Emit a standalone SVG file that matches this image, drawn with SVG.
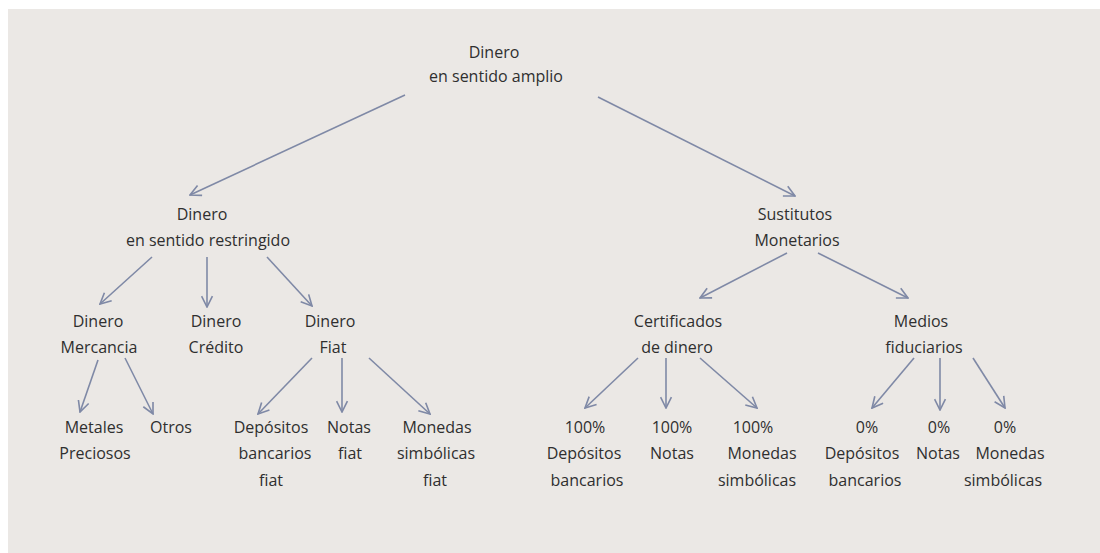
<svg xmlns="http://www.w3.org/2000/svg" width="1100" height="553" viewBox="0 0 1100 553">
<defs>
<style>
text{font-family:"Open Sans","Liberation Sans",sans-serif;font-size:16px;fill:#2f2f2f;text-anchor:middle}
.c line{stroke:#7f89a6;stroke-width:1.6;fill:none;marker-end:url(#ah)}
</style>
<marker id="ah" viewBox="0 0 12 12" refX="11" refY="6" markerWidth="13" markerHeight="13" markerUnits="userSpaceOnUse" orient="auto">
<path d="M1,1 L11,6 L1,11" fill="none" stroke="#7f89a6" stroke-width="1.5"/>
</marker>
</defs>
<rect x="0" y="0" width="1100" height="553" fill="#ffffff"/>
<rect x="8" y="9" width="1092" height="544" fill="#ebe8e5"/>
<g class="c" id="connectors">
<line x1="405" y1="95" x2="190" y2="195"/>
<line x1="598" y1="97" x2="795" y2="196"/>
<line x1="152" y1="257" x2="100" y2="304"/>
<line x1="207" y1="257" x2="207" y2="307"/>
<line x1="267" y1="257" x2="312" y2="306"/>
<line x1="98" y1="360" x2="80" y2="412"/>
<line x1="125" y1="358" x2="153" y2="414"/>
<line x1="312" y1="358" x2="258" y2="414"/>
<line x1="342" y1="358" x2="342" y2="412"/>
<line x1="369" y1="358" x2="430" y2="414"/>
<line x1="787" y1="253" x2="700" y2="298"/>
<line x1="818" y1="253" x2="908" y2="298"/>
<line x1="638" y1="358" x2="585" y2="408"/>
<line x1="666" y1="358" x2="666" y2="408"/>
<line x1="700" y1="358" x2="757" y2="408"/>
<line x1="914" y1="358" x2="872" y2="408"/>
<line x1="940" y1="358" x2="940" y2="410"/>
<line x1="973" y1="358" x2="1005" y2="408"/>
</g>
<g id="n-amplio"><text x="494" y="58">Dinero</text><text x="496" y="82">en sentido amplio</text></g>
<g id="n-restringido"><text x="202" y="220">Dinero</text><text x="208" y="246">en sentido restringido</text></g>
<g id="n-sustitutos"><text x="795" y="220">Sustitutos</text><text x="797" y="246">Monetarios</text></g>
<g id="n-mercancia"><text x="98" y="327">Dinero</text><text x="99" y="353">Mercancia</text></g>
<g id="n-credito"><text x="216" y="327">Dinero</text><text x="216" y="353">Crédito</text></g>
<g id="n-fiat"><text x="330" y="327">Dinero</text><text x="333" y="353">Fiat</text></g>
<g id="n-certificados"><text x="678" y="327">Certificados</text><text x="677" y="353">de dinero</text></g>
<g id="n-medios"><text x="921" y="327">Medios</text><text x="924" y="353">fiduciarios</text></g>
<g id="n-metales"><text x="94" y="433">Metales</text><text x="95" y="459">Preciosos</text></g>
<g id="n-otros"><text x="171" y="433">Otros</text></g>
<g id="n-depfiat"><text x="271" y="433">Depósitos</text><text x="275" y="459">bancarios</text><text x="271" y="486">fiat</text></g>
<g id="n-notasfiat"><text x="349" y="433">Notas</text><text x="350" y="459">fiat</text></g>
<g id="n-monfiat"><text x="437" y="433">Monedas</text><text x="436" y="459">simbólicas</text><text x="435" y="486">fiat</text></g>
<g id="n-dep100"><text x="585" y="433">100%</text><text x="584" y="459">Depósitos</text><text x="587" y="486">bancarios</text></g>
<g id="n-notas100"><text x="672" y="433">100%</text><text x="672" y="459">Notas</text></g>
<g id="n-mon100"><text x="753" y="433">100%</text><text x="762" y="459">Monedas</text><text x="757" y="486">simbólicas</text></g>
<g id="n-dep0"><text x="867" y="433">0%</text><text x="862" y="459">Depósitos</text><text x="865" y="486">bancarios</text></g>
<g id="n-notas0"><text x="939" y="433">0%</text><text x="938" y="459">Notas</text></g>
<g id="n-mon0"><text x="1005" y="433">0%</text><text x="1010" y="459">Monedas</text><text x="1003" y="486">simbólicas</text></g>
</svg>
